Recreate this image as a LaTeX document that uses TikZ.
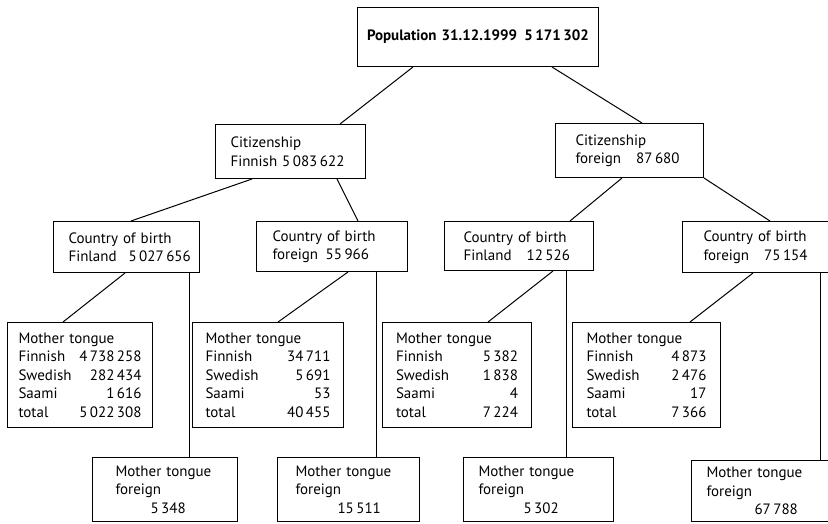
\documentclass[tikz,border=0pt]{standalone}
\usepackage{fontspec}
\setmainfont{PT Sans}
\newcommand{\numfill}{\hskip 0pt plus 1filll}
\tikzset{
  box/.style={draw, line width=1pt, anchor=north west, inner sep=0pt, align=left,
    font=\fontsize{15}{18.5}\selectfont},
  topbox/.style={box, font=\fontsize{15}{18.5}\selectfont\bfseries},
  link/.style={line width=1pt}
}

\begin{document}
\begin{tikzpicture}[x=1pt,y=-1pt]
	\useasboundingbox (0,0) rectangle (828,523);
	% population
	\node[topbox, minimum width=241pt, minimum height=59pt, text width=222pt] (pop) at (357,7)
		{Population 31.12.1999\numfill 5\,171\,302};
	% citizenship
	\node[box, minimum width=150pt, minimum height=54pt, text width=120pt] (cfin) at (215,124)
		{Citizenship\\\mbox{Finnish 5\,083\,622}};
	\node[box, minimum width=148pt, minimum height=54pt, text width=108pt] (cfor) at (555,123)
		{Citizenship\\\mbox{foreign\quad 87\,680}};
	% country of birth
	\node[box, minimum width=146pt, minimum height=51pt, text width=116pt] (bfin) at (53,221)
		{Country~of~birth\\\mbox{Finland\hspace{12pt}5\,027\,656}};
	\node[box, minimum width=151pt, minimum height=50pt, text width=119pt] (bfor) at (256,221)
		{Country~of~birth\\\mbox{foreign\enspace 55\,966}};
	\node[box, minimum width=149pt, minimum height=49pt, text width=111pt] (xfin) at (444,221)
		{Country~of~birth\\\mbox{Finland\quad 12\,526}};
	\node[box, minimum width=160pt, minimum height=51pt, text width=118pt] (xfor) at (682,221)
		{Country~of~birth\\\mbox{foreign\quad 75\,154}};
	% mother tongue
	\node[box, minimum width=145pt, minimum height=105pt, text width=123pt] (mfin) at (7,322)
		{Mother~tongue\\Finnish\numfill 4\,738\,258\\Swedish\numfill 282\,434\\Saami\numfill 1\,616\\total\numfill 5\,022\,308};
	\node[box, minimum width=151pt, minimum height=105pt, text width=125pt] (mbfor) at (192,322)
		{Mother~tongue\\Finnish\numfill 34\,711\\Swedish\numfill 5\,691\\Saami\numfill 53\\total\numfill 40\,455};
	\node[box, minimum width=149pt, minimum height=105pt, text width=122pt] (mxfin) at (382,322)
		{Mother~tongue\\Finnish\numfill 5\,382\\Swedish\numfill 1\,838\\Saami\numfill 4\\total\numfill 7\,224};
	\node[box, minimum width=148pt, minimum height=105pt, text width=120pt] (mxfor) at (572,322)
		{Mother~tongue\\Finnish\numfill 4\,873\\Swedish\numfill 2\,476\\Saami\numfill 17\\total\numfill 7\,366};
	% mother tongue foreign
	\node[box, minimum width=145pt, minimum height=64pt, text width=99pt] (ffin) at (92,457)
		{Mother~tongue\\foreign\\\hspace*{35pt}5\,348};
	\node[box, minimum width=142pt, minimum height=64pt, text width=106pt] (fbfor) at (277,457)
		{Mother~tongue\\foreign\\\hspace*{42pt}15\,511};
	\node[box, minimum width=150pt, minimum height=64pt, text width=120pt] (fxfin) at (463,457)
		{Mother~tongue\\foreign\\\hspace*{45pt}5\,302};
	\node[box, minimum width=150pt, minimum height=61pt, text width=120pt] (fxfor) at (691,460)
		{Mother~tongue\\foreign\\\hspace*{48pt}67\,788};

	\draw[link] ([xshift=56pt]pop.south west) -- ([xshift=125pt]cfin.north west);
	\draw[link] ([xshift=195pt]pop.south west) -- ([xshift=87pt]cfor.north west);
	\draw[link] ([xshift=37pt]cfin.south west) -- ([xshift=78pt]bfin.north west);
	\draw[link] ([xshift=122pt]cfin.south west) -- ([xshift=102pt]bfor.north west);
	\draw[link] ([xshift=67pt]cfor.south west) -- ([xshift=126pt]xfin.north west);
	\draw[link] (cfor.south east) -- ([xshift=88pt]xfor.north west);
	\draw[link] ([xshift=72pt]bfin.south west) -- ([xshift=56pt]mfin.north west);
	\draw[link] ([xshift=136pt]bfin.south west) -- ([xshift=136pt]bfin.south west |- ffin.north);
	\draw[link] ([xshift=92pt]bfor.south west) -- ([xshift=86pt]mbfor.north west);
	\draw[link] ([xshift=120pt]bfor.south west) -- ([xshift=120pt]bfor.south west |- fbfor.north);
	\draw[link] ([xshift=109pt]xfin.south west) -- ([xshift=106pt]mxfin.north west);
	\draw[link] ([xshift=122pt]xfin.south west) -- ([xshift=122pt]xfin.south west |- fxfin.north);
	\draw[link] ([xshift=71pt]xfor.south west) -- ([xshift=118pt]mxfor.north west);
	\draw[link] ([xshift=138pt]xfor.south west) -- ([xshift=138pt]xfor.south west |- fxfor.north);
\end{tikzpicture}
\end{document}
